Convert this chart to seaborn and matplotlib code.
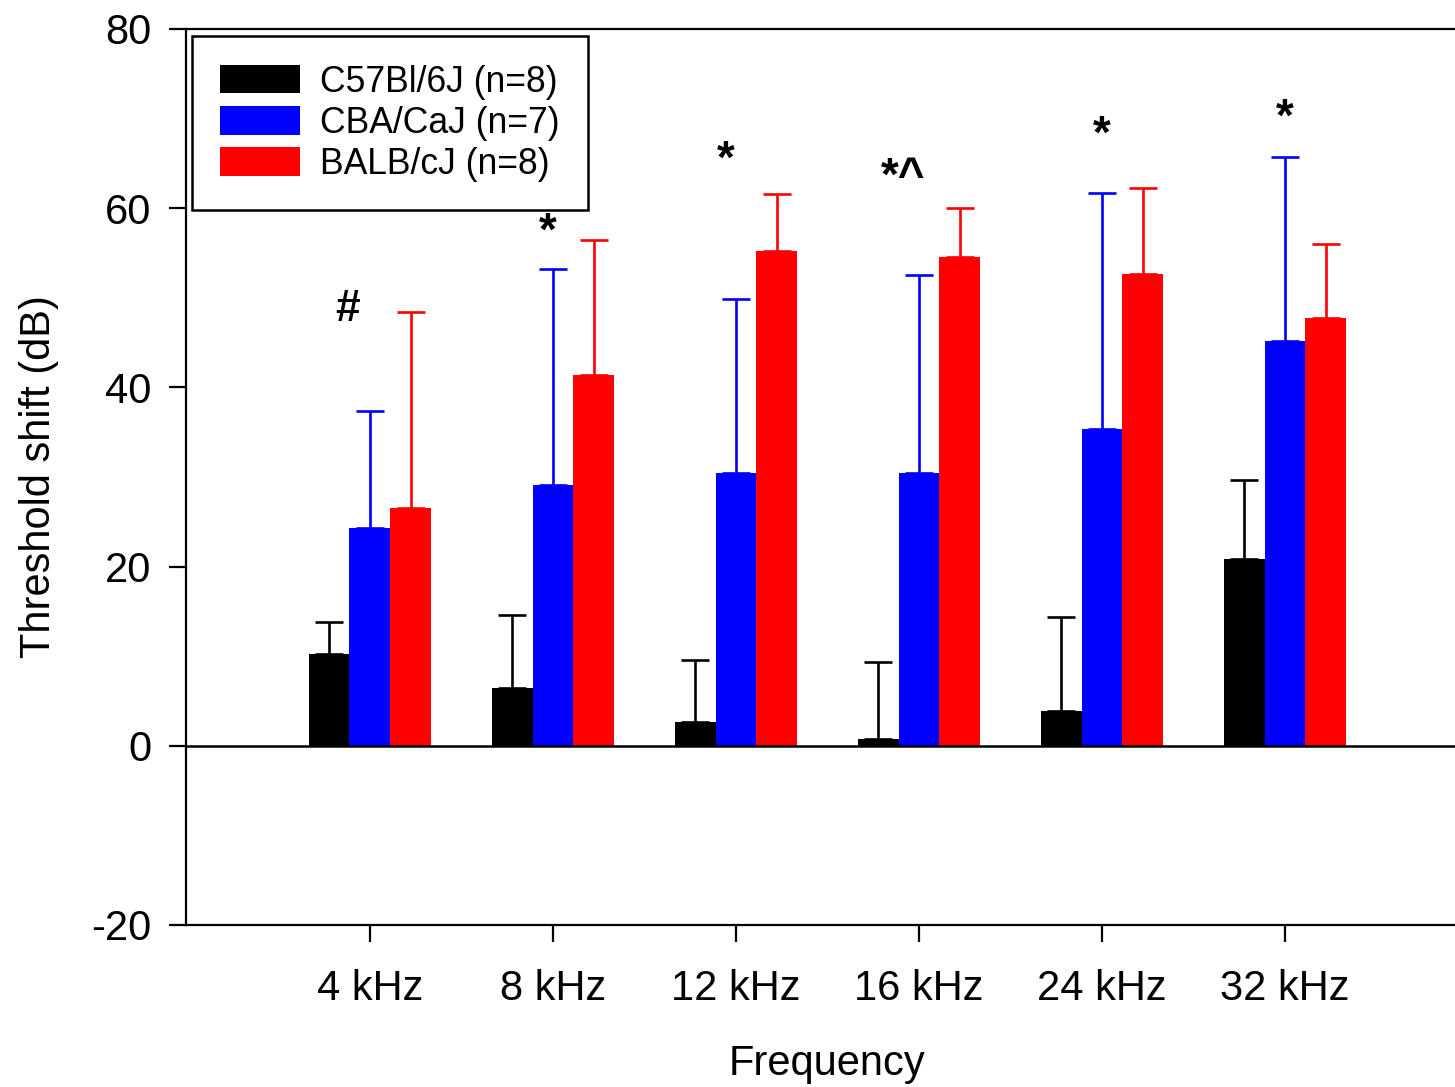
import matplotlib
matplotlib.use("Agg")
import matplotlib.pyplot as plt
import seaborn as sns
import pandas as pd
import numpy as np
from matplotlib.patches import Patch

# Frequencies and strains
frequencies = ["4 kHz", "8 kHz", "12 kHz", "16 kHz", "24 kHz", "32 kHz"]
strains = ["C57Bl/6J (n=8)", "CBA/CaJ (n=7)", "BALB/cJ (n=8)"]

# Mean threshold shift (dB) per strain
c57_mean = [10.2, 6.4, 2.7, 0.8, 3.9, 20.8]
cba_mean = [24.3, 29.1, 30.4, 30.4, 35.4, 45.2]
balb_mean = [26.5, 41.4, 55.2, 54.6, 52.7, 47.7]

# Upper error (SD) per strain
c57_err = [3.6, 8.2, 6.9, 8.6, 10.5, 8.9]
cba_err = [13.1, 24.1, 19.5, 22.2, 26.3, 20.5]
balb_err = [21.9, 15.0, 6.4, 5.4, 9.6, 8.3]

# Significance markers above each frequency
sig_labels = ["#", "*", "*", "*^", "*", "*"]
sig_y = [47.4, 55.9, 64.0, 62.0, 66.8, 68.7]
sig_dx = [-0.12, -0.03, -0.055, -0.087, 0.0, 0.0]
sig_size = [32, 33, 33, 33, 33, 33]

colors = ["#000000", "#0000FF", "#FF0000"]

means = [c57_mean, cba_mean, balb_mean]
errs = [c57_err, cba_err, balb_err]

df = pd.DataFrame({
    "Frequency": np.tile(frequencies, len(strains)),
    "Strain": np.repeat(strains, len(frequencies)),
    "Shift": np.concatenate(means),
})

sns.set_theme(style="white")
plt.rcParams["font.family"] = ["Liberation Sans", "DejaVu Sans"]
plt.rcParams["axes.unicode_minus"] = False
plt.rcParams["text.color"] = "black"
plt.rcParams["axes.labelcolor"] = "black"
plt.rcParams["xtick.color"] = "black"
plt.rcParams["ytick.color"] = "black"

fig = plt.figure(figsize=(14.55, 10.87), dpi=100)
ax = fig.add_axes([186 / 1455, 162 / 1087, 1282 / 1455, 896 / 1087])

sns.barplot(data=df, x="Frequency", y="Shift", hue="Strain", order=frequencies,
            hue_order=strains, palette=colors, width=0.67, errorbar=None,
            saturation=1, linewidth=0, legend=False, ax=ax)

# Upward-only error bars with caps
for container, col, err in zip(ax.containers, colors, errs):
    for patch, e in zip(container.patches, err):
        xc = patch.get_x() + patch.get_width() / 2
        h = patch.get_height()
        ax.errorbar(xc, h, yerr=[[0], [e]], fmt="none", ecolor=col,
                    elinewidth=1.9, capsize=10, capthick=1.9, zorder=1)

ax.axhline(0, color="black", lw=1.8, zorder=3)

for i, (lab, y, dx, fs) in enumerate(zip(sig_labels, sig_y, sig_dx, sig_size)):
    ax.text(i + dx, y, lab, ha="center", va="baseline", fontsize=fs,
            fontweight="bold", color="black")

ax.set_ylim(-20, 80)
ax.set_xlim(-1.005, 6.0)
ax.set_yticks([-20, 0, 20, 40, 60, 80])
ax.set_xlabel("Frequency", fontsize=30, labelpad=25)
ax.set_ylabel("Threshold shift (dB)", fontsize=30, labelpad=23)
ax.tick_params(axis="both", labelsize=30, direction="out", length=12,
               width=1.6, color="black", left=True, bottom=True)
ax.tick_params(axis="x", pad=20)
ax.tick_params(axis="y", pad=13)

for side in ["left", "top", "bottom"]:
    ax.spines[side].set_color("black")
    ax.spines[side].set_linewidth(1.6)
ax.spines["right"].set_visible(False)

handles = [Patch(facecolor=c, edgecolor="none") for c in colors]
leg = ax.legend(handles, strains, loc="upper left",
                bbox_to_anchor=(0.0047, 0.992), borderaxespad=0,
                fontsize=25.6, frameon=True, fancybox=False, edgecolor="black",
                framealpha=1, handlelength=2.25, handleheight=0.85,
                handletextpad=0.55, labelspacing=0.17, borderpad=0.8)
leg.get_frame().set_linewidth(1.8)

fig.savefig("out.png", dpi=100, facecolor="white")
